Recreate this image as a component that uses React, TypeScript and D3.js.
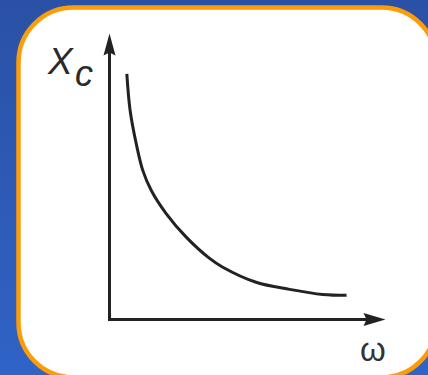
import React from "react";
import * as d3 from "d3";

// Reactance of a capacitor falls off as frequency rises
const omega = [6.3, 7.5, 9.7, 12.1, 15.2, 20.6, 27.9, 36.4, 41.2, 53.3, 65.5, 77.5, 86.2];
const reactance = [86.5, 73.6, 62.0, 52.5, 45.4, 37.3, 29.0, 21.5, 18.4, 13.1, 10.6, 8.8, 8.5];

const yLabel = "X";
const ySub = "c";
const xLabel = "ω";

const W = 428;
const H = 375;

export default function App() {
  const x = d3.scaleLinear().domain([0, 100]).range([109.5, 384.5]);
  const y = d3.scaleLinear().domain([0, 100]).range([319.5, 35.5]);

  const pts = omega.map((w, i) => [w, reactance[i]] as [number, number]);
  const line = d3
    .line<[number, number]>()
    .x((d) => x(d[0]))
    .y((d) => y(d[1]))
    .curve(d3.curveCatmullRom.alpha(0.5));

  const [x0, x1] = x.range();
  const [y0, y1] = y.range();
  const ink = "#222222";

  const yTip = y1 - 2;
  const xTip = x1 + 1;

  return (
    <svg
      width={W}
      height={H}
      style={{ position: "absolute", left: 0, top: 0 }}
      fontFamily="'Liberation Sans', Arial, sans-serif"
    >
      <defs>
        <linearGradient id="bg" x1="0" y1="0" x2="0" y2="1">
          <stop offset="0%" stopColor="#2a51a5" />
          <stop offset="100%" stopColor="#3063c6" />
        </linearGradient>
      </defs>
      <rect width={W} height={H} fill="url(#bg)" />
      <rect
        x={18.5}
        y={7.5}
        width={418}
        height={370}
        rx={55}
        ry={55}
        fill="#ffffff"
        stroke="#fb9c08"
        strokeWidth={4.5}
      />

      {/* axes */}
      <line x1={x0} y1={y0 + 1.5} x2={x0} y2={yTip + 12} stroke={ink} strokeWidth={3} />
      <path
        d={`M${x0},${yTip} L${x0 + 6},${yTip + 22} L${x0},${yTip + 19} L${x0 - 6},${yTip + 22} Z`}
        fill={ink}
      />
      <line x1={x0 - 1.5} y1={y0} x2={xTip - 12} y2={y0} stroke={ink} strokeWidth={3} />
      <path
        d={`M${xTip},${y0} L${xTip - 22},${y0 - 6.5} L${xTip - 19},${y0} L${xTip - 22},${y0 + 6.5} Z`}
        fill={ink}
      />

      {/* curve */}
      <path d={line(pts) ?? ""} fill="none" stroke={ink} strokeWidth={3} strokeLinecap="butt" />

      {/* labels */}
      <text x={48} y={74} fontSize={37} fontStyle="italic" fill="#2a2a2a">
        {yLabel}
      </text>
      <text x={75} y={86} fontSize={36} fontStyle="italic" fill="#2a2a2a">
        {ySub}
      </text>
      <text x={360} y={361} fontSize={33} fill="#333333">
        {xLabel}
      </text>
    </svg>
  );
}
